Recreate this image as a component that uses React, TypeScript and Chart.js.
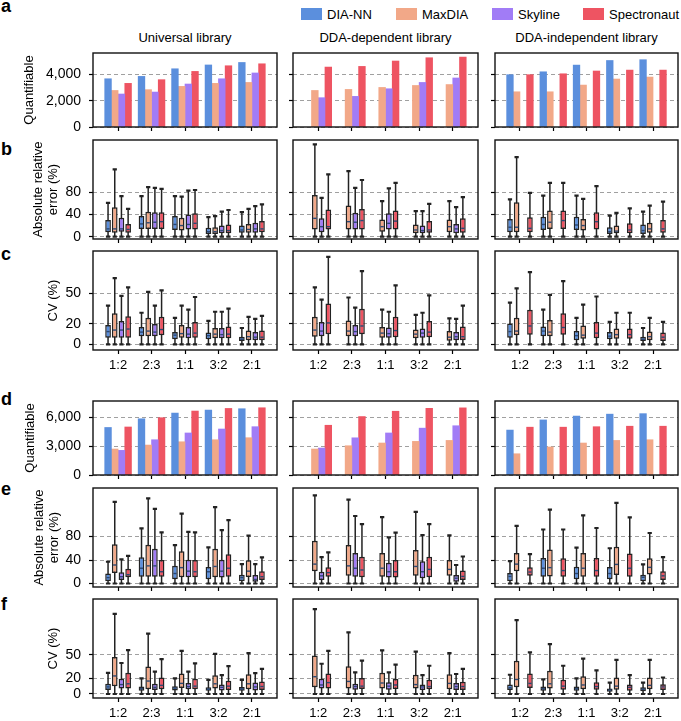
import React, { useEffect, useRef } from 'react';
import { Chart, registerables } from 'chart.js';

Chart.register(...registerables);

const FONT = "'Liberation Sans', Arial, Helvetica, sans-serif";

// ---------------- data ----------------
const categories = ['1:2', '2:3', '1:1', '3:2', '2:1'];
const seriesNames = ['DIA-NN', 'MaxDIA', 'Skyline', 'Spectronaut'];
const seriesColors = ['#5B8FDD', '#F2A888', '#A17CF6', '#EE5462'];
const libraryNames = ['Universal library', 'DDA-dependent library', 'DDA-independent library'];

// a: quantifiable (first dataset)
const qUniDiann = [3670, 3850, 4430, 4720, 4910];
const qUniMaxdia = [2780, 2840, 3090, 3320, 3390];
const qUniSkyline = [2510, 2660, 3270, 3670, 4110];
const qUniSpectro = [3320, 3600, 4230, 4660, 4810];
const qDepMaxdia = [2780, 2860, 3010, 3160, 3230];
const qDepSkyline = [2230, 2330, 2910, 3390, 3730];
const qDepSpectro = [4560, 4610, 5020, 5270, 5320];
const qIndDiann = [3980, 4200, 4710, 5060, 5120];
const qIndMaxdia = [2680, 2680, 3190, 3650, 3800];
const qIndSpectro = [3980, 4050, 4260, 4330, 4330];

// d: quantifiable (second dataset)
const pUniDiann = [4920, 5820, 6410, 6720, 6860];
const pUniMaxdia = [2690, 3100, 3440, 3650, 3860];
const pUniSkyline = [2550, 3650, 4350, 4760, 5000];
const pUniSpectro = [4970, 5930, 6620, 6890, 6960];
const pDepMaxdia = [2690, 3030, 3310, 3480, 3580];
const pDepSkyline = [2790, 3850, 4350, 4850, 5100];
const pDepSpectro = [5150, 6050, 6600, 6900, 6950];
const pIndDiann = [4650, 5700, 6100, 6300, 6350];
const pIndMaxdia = [2200, 2900, 3310, 3580, 3650];
const pIndSpectro = [4950, 4950, 5000, 5050, 5050];

// box stats: [lower whisker, q1, median, q3, upper whisker]
// b: absolute relative error (%)
const eUniDiann = [[0, 8, 14, 30, 61], [0, 14, 23, 37, 73], [0, 12, 22, 37, 73], [0, 5, 9, 16, 35], [0, 7, 12, 20, 44]];
const eUniMaxdia = [[0, 7, 14, 53, 121], [0, 14, 25, 45, 89], [0, 11, 20, 34, 72], [0, 5, 9, 17, 37], [0, 7, 13, 23, 50]];
const eUniSkyline = [[0, 9, 14, 34, 73], [0, 14, 26, 44, 88], [0, 13, 22, 40, 83], [0, 6, 11, 20, 45], [0, 7, 14, 25, 55]];
const eUniSpectro = [[0, 7, 13, 23, 50], [0, 14, 27, 44, 86], [0, 13, 24, 42, 84], [0, 6, 11, 22, 48], [0, 8, 14, 28, 58]];
const eDepMaxdia = [[0, 13, 33, 75, 166], [0, 13, 27, 56, 118], [0, 9, 18, 31, 64], [0, 6, 12, 22, 46], [0, 8, 18, 31, 64]];
const eDepSkyline = [[0, 8, 18, 33, 70], [0, 13, 26, 43, 88], [0, 13, 24, 42, 87], [0, 6, 11, 20, 46], [0, 6, 14, 23, 53]];
const eDepSpectro = [[0, 13, 18, 49, 112], [0, 13, 29, 50, 102], [0, 13, 28, 47, 97], [0, 7, 12, 28, 59], [0, 7, 15, 33, 71]];
const eIndDiann = [[0, 8, 17, 32, 67], [0, 12, 22, 36, 74], [0, 12, 21, 36, 74], [0, 5, 9, 17, 38], [0, 5, 11, 22, 45]];
const eIndMaxdia = [[0, 8, 17, 62, 143], [0, 14, 26, 47, 97], [0, 11, 20, 32, 68], [0, 6, 10, 20, 43], [0, 7, 14, 25, 56]];
const eIndSpectro = [[0, 8, 15, 35, 79], [0, 14, 29, 47, 97], [0, 13, 27, 44, 91], [0, 6, 12, 24, 51], [0, 7, 14, 30, 63]];

// c: CV (%)
const cUniDiann = [[0, 6.5, 12.5, 19, 38], [0, 8, 12, 17, 31], [0, 5, 9, 12, 26], [0, 5, 8.5, 11.5, 23], [0, 3.3, 5, 7.5, 16]];
const cUniMaxdia = [[0, 6.5, 14, 30.5, 65], [0, 8, 13, 26, 51.5], [0, 6.5, 10.5, 19, 38], [0, 6, 10, 16, 32], [0, 4, 7.5, 13.5, 27]];
const cUniSkyline = [[0, 6.5, 14, 23, 47.5], [0, 8, 12, 20, 38], [0, 6, 10, 17, 34], [0, 6, 9.5, 16, 32], [0, 4, 7, 12, 25]];
const cUniSpectro = [[0, 6.5, 15, 27.5, 56], [0, 9, 14.5, 27, 53], [0, 6.5, 11, 22, 46.5], [0, 6, 10, 17.5, 35], [0, 4, 7, 13.5, 28]];
const cDepMaxdia = [[0, 7.5, 14, 27, 56], [0, 8, 13, 23.5, 46], [0, 6.5, 11, 17, 34], [0, 6, 10, 14.5, 29], [0, 3.5, 7, 13, 25.5]];
const cDepSkyline = [[0, 8, 13, 22, 44], [0, 8, 12.5, 19, 36], [0, 6.5, 10.5, 16.5, 32], [0, 6.5, 11, 15.5, 31], [0, 4, 7.5, 12, 25]];
const cDepSpectro = [[0, 10, 21, 40, 86], [0, 10, 18, 35, 72], [0, 7, 13.5, 27, 58], [0, 7, 12, 23, 48], [0, 4, 7.5, 17.5, 38]];
const cIndDiann = [[0, 6.5, 12.5, 20.5, 41], [0, 8, 13, 17.5, 34], [0, 4, 8.5, 13, 26], [0, 5, 8, 12, 22], [0, 3.3, 5, 7.5, 16]];
const cIndMaxdia = [[0, 9, 13, 26, 55], [0, 8, 12, 24, 48.5], [0, 5.5, 9, 18.5, 39], [0, 5.5, 9.5, 15.5, 31], [0, 4, 7.5, 12.5, 26]];
const cIndSpectro = [[0, 9.5, 18, 34, 71], [0, 9.5, 16.5, 30.5, 62], [0, 6, 11, 22, 47], [0, 5.5, 9.5, 15.5, 31], [0, 3.3, 7, 11.5, 22]];

// e: absolute relative error (%) (second dataset)
const rUniDiann = [[0, 4, 10, 17, 37], [0, 11.5, 26, 44.5, 94], [0, 7, 17, 30, 65.5], [0, 7, 20, 28, 61.5], [0, 4, 10, 15, 33]];
const rUniMaxdia = [[0, 18, 31.5, 67, 139], [0, 11.5, 30, 66, 145], [0, 10.5, 27, 55, 119], [0, 10.5, 29, 59, 130], [0, 11, 21, 39.5, 81.5]];
const rUniSkyline = [[0, 6, 11.5, 19, 41], [0, 11.5, 30, 59, 127], [0, 10.5, 21, 40.5, 88], [0, 10, 21, 40.5, 91], [0, 3, 7, 14.5, 33]];
const rUniSpectro = [[0, 10.5, 15, 25, 47], [0, 11.5, 20, 40, 87], [0, 10.5, 20, 40, 87], [0, 11.5, 26, 50, 108], [0, 6, 11.5, 21, 44.5]];
const rDepMaxdia = [[0, 21, 33, 73, 150], [0, 13, 30, 65.5, 143], [0, 11.5, 26, 52, 113], [0, 13, 29, 57, 122], [0, 13, 24, 40, 82]];
const rDepSkyline = [[0, 6, 13, 20, 45], [0, 11.5, 26, 52, 115], [0, 10, 20, 35.5, 78.5], [0, 9, 20, 38, 82.5], [0, 3, 9, 14.5, 31.5]];
const rDepSpectro = [[0, 11.5, 18.5, 27.5, 53], [0, 10.5, 23, 45.5, 101], [0, 10, 20, 40, 86.5], [0, 10.5, 24, 45.5, 101], [0, 6, 12, 22, 46]];
const rIndDiann = [[0, 4, 12, 18, 38], [0, 11.5, 26, 43.5, 92], [0, 7, 17, 28.5, 61], [0, 7, 17, 28, 60], [0, 4, 10.5, 15, 32.5]];
const rIndMaxdia = [[0, 21, 33, 52, 98], [0, 12, 27, 58, 126], [0, 11.5, 26, 52, 116], [0, 14.5, 32.5, 62.5, 137.5], [0, 15.5, 27.5, 43, 86]];
const rIndSpectro = [[0, 13, 19.5, 27.5, 50], [0, 11.5, 22, 43, 92], [0, 11.5, 22, 43.5, 94.5], [0, 11.5, 26, 51, 112.5], [0, 6, 13, 21, 45]];

// f: CV (%) (second dataset)
const fUniDiann = [[0, 5, 9, 13, 27], [0, 4, 7, 9.5, 20], [0, 4.5, 7.5, 10, 20], [0, 4, 6, 8.5, 18], [0, 4, 6.5, 9, 18]];
const fUniMaxdia = [[0, 10, 23, 47, 102], [0, 6, 16.5, 35, 77], [0, 7.5, 13.5, 26, 55], [0, 7, 13, 24, 51], [0, 6, 13, 25, 52]];
const fUniSkyline = [[0, 7, 12, 19.5, 39.5], [0, 5, 8.5, 13, 28.5], [0, 6, 9.5, 14, 28.5], [0, 4.5, 8.5, 12, 24], [0, 4.5, 9, 14.5, 26.5]];
const fUniSpectro = [[0, 7, 13, 27, 56], [0, 6, 11, 21, 44.5], [0, 6, 10, 19.5, 39], [0, 5, 10, 17, 35.5], [0, 5, 9.5, 16, 32]];
const fDepMaxdia = [[0, 8.5, 22, 49, 108], [0, 7, 16, 35.5, 78.5], [0, 7, 14, 27, 55.5], [0, 7, 12, 24.5, 54], [0, 6, 13.5, 25, 52]];
const fDepSkyline = [[0, 7, 11.5, 19.5, 38.5], [0, 5.5, 9.5, 13, 27.5], [0, 5.5, 10, 15, 27.5], [0, 5, 9, 12, 24], [0, 5, 9.5, 14, 25.5]];
const fDepSpectro = [[0, 7, 14.5, 26, 55], [0, 6.5, 10, 20.5, 42.5], [0, 6.5, 11.5, 19, 37.5], [0, 6, 9.5, 18, 36], [0, 5, 9.5, 15.5, 32]];
const fIndDiann = [[0, 5, 8, 12, 24.5], [0, 4, 7, 9.5, 18.5], [0, 4, 7, 9.5, 20], [0, 3, 5, 7, 14.5], [0, 3.5, 6, 8.5, 14.5]];
const fIndMaxdia = [[0, 8.5, 18.5, 42.5, 94], [0, 7, 13, 29.5, 63.5], [0, 6, 11.5, 22.5, 45], [0, 5.5, 10, 21, 43.5], [0, 6, 11, 21, 43.5]];
const fIndSpectro = [[0, 7.5, 13.5, 26, 53], [0, 5.5, 10, 18, 36], [0, 5.5, 9.5, 15, 30], [0, 4, 8.5, 12, 24], [0, 5, 9, 12.5, 21]];

// y-axis ticks per row
const ticksQuantA = [0, 2000, 4000];
const ticksError = [0, 40, 80];
const ticksCV = [0, 20, 50];
const ticksQuantD = [0, 3000, 6000];

// ---------------- layout ----------------
const COLS = [
  { L: 93, R: 277 },
  { L: 293, R: 478 },
  { L: 495, R: 678 },
];

type RowSpec = {
  letter: string;
  kind: 'bar' | 'box';
  data: any[][];
  min: number;
  max: number;
  ticks: number[];
  title: string | string[];
  pad: number;
  T: number;
  B: number;
  xLabels: boolean;
  letterBase: number;
};

const ROWS: RowSpec[] = [
  {
    letter: 'a', kind: 'bar',
    data: [[qUniDiann, qUniMaxdia, qUniSkyline, qUniSpectro], [null, qDepMaxdia, qDepSkyline, qDepSpectro], [qIndDiann, qIndMaxdia, null, qIndSpectro]],
    min: 0, max: 5630, ticks: ticksQuantA, title: 'Quantifiable', pad: 21.5, T: 53, B: 127, xLabels: false, letterBase: 12,
  },
  {
    letter: 'b', kind: 'box',
    data: [[eUniDiann, eUniMaxdia, eUniSkyline, eUniSpectro], [null, eDepMaxdia, eDepSkyline, eDepSpectro], [eIndDiann, eIndMaxdia, null, eIndSpectro]],
    min: -4.2, max: 174, ticks: ticksError, title: ['Absolute relative', 'error (%)'], pad: 30.5, T: 140, B: 239, xLabels: false, letterBase: 155,
  },
  {
    letter: 'c', kind: 'box',
    data: [[cUniDiann, cUniMaxdia, cUniSkyline, cUniSpectro], [null, cDepMaxdia, cDepSkyline, cDepSpectro], [cIndDiann, cIndMaxdia, null, cIndSpectro]],
    min: -5.6, max: 91.7, ticks: ticksCV, title: 'CV (%)', pad: 45.5, T: 251, B: 350, xLabels: true, letterBase: 260,
  },
  {
    letter: 'd', kind: 'bar',
    data: [[pUniDiann, pUniMaxdia, pUniSkyline, pUniSpectro], [null, pDepMaxdia, pDepSkyline, pDepSpectro], [pIndDiann, pIndMaxdia, null, pIndSpectro]],
    min: 0, max: 7660, ticks: ticksQuantD, title: 'Quantifiable', pad: 22.5, T: 401, B: 475, xLabels: false, letterBase: 405,
  },
  {
    letter: 'e', kind: 'box',
    data: [[rUniDiann, rUniMaxdia, rUniSkyline, rUniSpectro], [null, rDepMaxdia, rDepSkyline, rDepSpectro], [rIndDiann, rIndMaxdia, null, rIndSpectro]],
    min: -6, max: 162.7, ticks: ticksError, title: ['Absolute relative', 'error (%)'], pad: 31.5, T: 488, B: 587, xLabels: false, letterBase: 495,
  },
  {
    letter: 'f', kind: 'box',
    data: [[fUniDiann, fUniMaxdia, fUniSkyline, fUniSpectro], [null, fDepMaxdia, fDepSkyline, fDepSpectro], [fIndDiann, fIndMaxdia, null, fIndSpectro]],
    min: -5.1, max: 121, ticks: ticksCV, title: 'CV (%)', pad: 45.5, T: 599, B: 698, xLabels: true, letterBase: 610,
  },
];

// ---------------- plugins ----------------
const framePlugin = {
  id: 'frame',
  afterDraw(chart: any) {
    const { ctx, chartArea: a } = chart;
    ctx.save();
    ctx.strokeStyle = '#111';
    ctx.lineWidth = 1.4;
    ctx.strokeRect(a.left, a.top, a.right - a.left, a.bottom - a.top);
    ctx.restore();
  },
};

const boxPlugin = {
  id: 'boxWhisker',
  beforeDatasetsDraw(chart: any) {
    const y = chart.scales.y;
    const ctx = chart.ctx;
    chart.data.datasets.forEach((ds: any, di: number) => {
      if (!ds.stats) return;
      const meta = chart.getDatasetMeta(di);
      meta.data.forEach((el: any, i: number) => {
        const s = ds.stats[i];
        const cap = el.width * 0.75;
        const yLo = y.getPixelForValue(s[0]);
        const yHi = y.getPixelForValue(s[4]);
        ctx.save();
        ctx.strokeStyle = '#222';
        ctx.lineWidth = 1.5;
        ctx.beginPath();
        ctx.moveTo(el.x, yLo);
        ctx.lineTo(el.x, yHi);
        ctx.stroke();
        ctx.lineWidth = 2.2;
        ctx.beginPath();
        ctx.moveTo(el.x - cap / 2, yLo);
        ctx.lineTo(el.x + cap / 2, yLo);
        ctx.moveTo(el.x - cap / 2, yHi);
        ctx.lineTo(el.x + cap / 2, yHi);
        ctx.stroke();
        ctx.restore();
      });
    });
  },
  afterDatasetsDraw(chart: any) {
    const y = chart.scales.y;
    const ctx = chart.ctx;
    chart.data.datasets.forEach((ds: any, di: number) => {
      if (!ds.stats) return;
      const meta = chart.getDatasetMeta(di);
      meta.data.forEach((el: any, i: number) => {
        const s = ds.stats[i];
        const ym = y.getPixelForValue(s[2]);
        ctx.save();
        ctx.strokeStyle = '#2c4873';
        ctx.lineWidth = 1.4;
        ctx.beginPath();
        ctx.moveTo(el.x - el.width / 2 + 1.2, ym);
        ctx.lineTo(el.x + el.width / 2 - 1.2, ym);
        ctx.stroke();
        ctx.restore();
      });
    });
  },
};

type PanelSpec = {
  row: RowSpec;
  col: number;
  x: number;
  y: number;
  w: number;
  h: number;
  yw: number;
  xh: number;
};

function buildConfig(p: PanelSpec): any {
  const { row, col, yw, xh } = p;
  const showY = col === 0;
  const seriesList = row.data[col];
  const datasets: any[] = [];
  seriesList.forEach((vals: any, si: number) => {
    if (!vals) return;
    const off = (si - 1.5) * 0.2;
    if (row.kind === 'bar') {
      datasets.push({
        label: seriesNames[si],
        data: vals.map((v: number, i: number) => ({ x: i + off, y: v })),
        backgroundColor: seriesColors[si],
        borderWidth: 0,
        grouped: false,
        categoryPercentage: 1,
        barPercentage: 1,
      });
    } else {
      datasets.push({
        label: seriesNames[si],
        data: vals.map((b: number[], i: number) => ({ x: i + off, y: [b[1], b[3]] })),
        stats: vals,
        backgroundColor: seriesColors[si],
        borderColor: '#222',
        borderWidth: 1.5,
        borderSkipped: false,
        grouped: false,
        categoryPercentage: 1,
        barPercentage: 0.85,
      });
    }
  });

  return {
    type: 'bar',
    data: { datasets },
    plugins: [framePlugin, boxPlugin],
    options: {
      responsive: false,
      animation: false,
      devicePixelRatio: 1,
      layout: { padding: { top: 4, right: 4, left: 0, bottom: 0 } },
      plugins: { legend: { display: false }, tooltip: { enabled: false }, title: { display: false } },
      scales: {
        x: {
          type: 'linear',
          min: -0.75,
          max: 4.75,
          offset: false,
          bounds: 'data',
          afterBuildTicks: (ax: any) => {
            ax.ticks = categories.map((_, i) => ({ value: i }));
          },
          afterFit: (ax: any) => {
            ax.height = xh;
            ax.paddingLeft = 0;
            ax.paddingRight = 0;
            ax.paddingTop = 0;
            ax.paddingBottom = 0;
          },
          ticks: {
            callback: (v: number) => (row.xLabels ? categories[Math.round(v)] : ''),
            font: { family: FONT, size: 13 },
            color: '#000',
            padding: 4,
            maxRotation: 0,
            autoSkip: false,
          },
          grid: {
            offset: false,
            drawOnChartArea: false,
            drawTicks: true,
            tickLength: 4,
            tickColor: '#000',
            tickWidth: 1.2,
          },
          border: { display: false },
        },
        y: {
          type: 'linear',
          min: row.min,
          max: row.max,
          bounds: 'data',
          afterBuildTicks: (ax: any) => {
            ax.ticks = row.ticks.map((v) => ({ value: v }));
          },
          afterFit: (ax: any) => {
            ax.width = yw;
            ax.paddingLeft = 0;
            ax.paddingRight = 0;
            ax.paddingTop = 0;
            ax.paddingBottom = 0;
          },
          ticks: {
            callback: (v: number) => (showY ? Number(v).toLocaleString('en-US') : ''),
            font: { family: FONT, size: 14 },
            color: '#000',
            padding: 8,
          },
          grid: {
            color: '#a0a0a0',
            lineWidth: 1,
            drawOnChartArea: true,
            drawTicks: true,
            tickLength: 4,
            tickColor: '#000',
            tickWidth: 1.2,
            tickBorderDash: [],
          },
          border: { display: false, dash: [4, 3] },
          title: {
            display: showY,
            text: row.title,
            font: { family: FONT, size: 13, lineHeight: 1.15 },
            color: '#000',
            padding: { top: row.pad, bottom: 0 },
          },
        },
      },
    },
  };
}

function Panel({ spec }: { spec: PanelSpec }) {
  const ref = useRef<HTMLCanvasElement>(null);
  useEffect(() => {
    const chart = new Chart(ref.current as HTMLCanvasElement, buildConfig(spec));
    return () => chart.destroy();
  }, []);
  return (
    <canvas
      ref={ref}
      width={spec.w}
      height={spec.h}
      style={{ position: 'absolute', left: spec.x, top: spec.y, width: spec.w, height: spec.h }}
    />
  );
}

const PANELS: PanelSpec[] = [];
ROWS.forEach((row) => {
  COLS.forEach((c, ci) => {
    const yw = ci === 0 ? c.L : 10;
    const xh = row.xLabels ? 28 : 8;
    PANELS.push({
      row,
      col: ci,
      x: c.L - yw,
      y: row.T - 4,
      w: yw + (c.R - c.L) + 4,
      h: row.B - row.T + 4 + xh,
      yw,
      xh,
    });
  });
});

const LEGEND_X = [301, 396, 492, 583];

export default function App() {
  return (
    <div
      style={{
        position: 'absolute',
        left: 0,
        top: 0,
        width: 681,
        height: 721,
        overflow: 'hidden',
        background: '#fff',
        fontFamily: FONT,
        color: '#000',
      }}
    >
      {ROWS.map((r) => (
        <div
          key={r.letter}
          style={{
            position: 'absolute',
            left: 1,
            top: r.letterBase - 15.25,
            fontSize: 18,
            lineHeight: '18px',
            fontWeight: 'bold',
          }}
        >
          {r.letter}
        </div>
      ))}
      {libraryNames.map((name, i) => (
        <div
          key={name}
          style={{
            position: 'absolute',
            left: COLS[i].L,
            width: COLS[i].R - COLS[i].L,
            top: 30.5,
            textAlign: 'center',
            fontSize: 13,
            lineHeight: '13px',
            whiteSpace: 'nowrap',
          }}
        >
          {name}
        </div>
      ))}
      {seriesNames.map((name, i) => (
        <React.Fragment key={name}>
          <div
            style={{
              position: 'absolute',
              left: LEGEND_X[i],
              top: 8,
              width: 21,
              height: 12,
              background: seriesColors[i],
            }}
          />
          <div
            style={{
              position: 'absolute',
              left: LEGEND_X[i] + 26,
              top: 8,
              fontSize: 13,
              lineHeight: '13px',
              whiteSpace: 'nowrap',
            }}
          >
            {name}
          </div>
        </React.Fragment>
      ))}
      {PANELS.map((p, i) => (
        <Panel key={i} spec={p} />
      ))}
    </div>
  );
}
